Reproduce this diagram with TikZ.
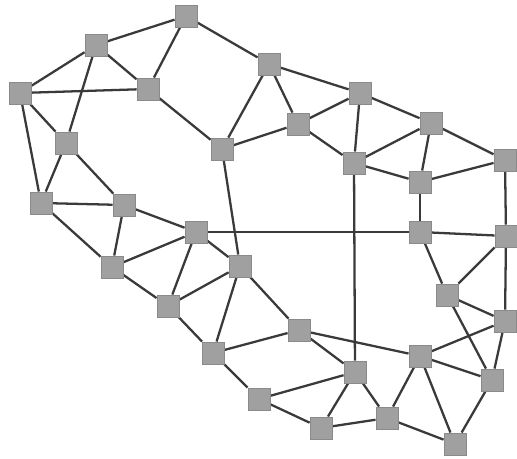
\documentclass[tikz,border=0pt]{standalone}
\usepackage{tikz}
\usetikzlibrary{backgrounds}
\definecolor{boxgray}{HTML}{A0A0A0}
\definecolor{boxedge}{HTML}{8A8A8A}
\definecolor{wire}{HTML}{3A3A3A}
\tikzset{
  % grafer
  gv/.style={rectangle,draw=boxedge,fill=boxgray,line width=0.5pt,inner sep=0pt,
             minimum size=4.4mm},
  ge/.style={draw=wire,line width=1.3pt},
}
\begin{document}
\begin{tikzpicture}[x=0.02cm,y=-0.02cm]
  \useasboundingbox (0,0) rectangle (517,459);
  \node[gv] (v1) at (186,16) {};
  \node[gv] (v2) at (96,45) {};
  \node[gv] (v3) at (20,93) {};
  \node[gv] (v4) at (148,89) {};
  \node[gv] (v5) at (269,64) {};
  \node[gv] (v6) at (66,143) {};
  \node[gv] (v7) at (222,149) {};
  \node[gv] (v8) at (298,124) {};
  \node[gv] (v9) at (360,93) {};
  \node[gv] (v10) at (354,163) {};
  \node[gv] (v11) at (431,123) {};
  \node[gv] (v12) at (505,160) {};
  \node[gv] (v13) at (420,182) {};
  \node[gv] (v14) at (41,203) {};
  \node[gv] (v15) at (124,205) {};
  \node[gv] (v16) at (196,232) {};
  \node[gv] (v17) at (420,232) {};
  \node[gv] (v18) at (506,236) {};
  \node[gv] (v19) at (112,267) {};
  \node[gv] (v20) at (240,266) {};
  \node[gv] (v21) at (168,306) {};
  \node[gv] (v22) at (447,295) {};
  \node[gv] (v23) at (505,321) {};
  \node[gv] (v24) at (299,330) {};
  \node[gv] (v25) at (213,353) {};
  \node[gv] (v26) at (420,356) {};
  \node[gv] (v27) at (355,372) {};
  \node[gv] (v28) at (492,380) {};
  \node[gv] (v29) at (259,399) {};
  \node[gv] (v30) at (387,418) {};
  \node[gv] (v31) at (321,428) {};
  \node[gv] (v32) at (455,444) {};
  \begin{scope}[on background layer]
  \draw[ge] (v1) -- (v2); \draw[ge] (v1) -- (v4); \draw[ge] (v1) -- (v5);
  \draw[ge] (v2) -- (v3); \draw[ge] (v2) -- (v4); \draw[ge] (v2) -- (v6);
  \draw[ge] (v3) -- (v4); \draw[ge] (v3) -- (v6); \draw[ge] (v3) -- (v14);
  \draw[ge] (v4) -- (v7); \draw[ge] (v5) -- (v7); \draw[ge] (v7) -- (v8);
  \draw[ge] (v7) -- (v20);
  \draw[ge] (v6) -- (v14); \draw[ge] (v6) -- (v15);
  \draw[ge] (v5) -- (v8); \draw[ge] (v5) -- (v9); \draw[ge] (v8) -- (v9);
  \draw[ge] (v8) -- (v10); \draw[ge] (v9) -- (v10); \draw[ge] (v9) -- (v11);
  \draw[ge] (v10) -- (v11); \draw[ge] (v10) -- (v13); \draw[ge] (v11) -- (v13);
  \draw[ge] (v11) -- (v12); \draw[ge] (v12) -- (v13);
  \draw[ge] (v13) -- (v17); \draw[ge] (v12) -- (v18); \draw[ge] (v10) -- (v27);
  \draw[ge] (v14) -- (v15); \draw[ge] (v14) -- (v19); \draw[ge] (v15) -- (v19);
  \draw[ge] (v15) -- (v16); \draw[ge] (v16) -- (v19); \draw[ge] (v16) -- (v21);
  \draw[ge] (v16) -- (v20); \draw[ge] (v16) -- (v17); \draw[ge] (v17) -- (v18);
  \draw[ge] (v19) -- (v21); \draw[ge] (v20) -- (v21); \draw[ge] (v20) -- (v25);
  \draw[ge] (v20) -- (v24); \draw[ge] (v21) -- (v25); \draw[ge] (v25) -- (v29);
  \draw[ge] (v25) -- (v24);
  \draw[ge] (v17) -- (v22); \draw[ge] (v18) -- (v22); \draw[ge] (v18) -- (v23);
  \draw[ge] (v22) -- (v23); \draw[ge] (v22) -- (v28); \draw[ge] (v23) -- (v26);
  \draw[ge] (v23) -- (v28);
  \draw[ge] (v24) -- (v26); \draw[ge] (v24) -- (v27);
  \draw[ge] (v26) -- (v28); \draw[ge] (v26) -- (v30); \draw[ge] (v26) -- (v32);
  \draw[ge] (v28) -- (v32); \draw[ge] (v30) -- (v32);
  \draw[ge] (v27) -- (v29); \draw[ge] (v27) -- (v31); \draw[ge] (v27) -- (v30);
  \draw[ge] (v29) -- (v31); \draw[ge] (v31) -- (v30);
  \end{scope}
\end{tikzpicture}
\end{document}
